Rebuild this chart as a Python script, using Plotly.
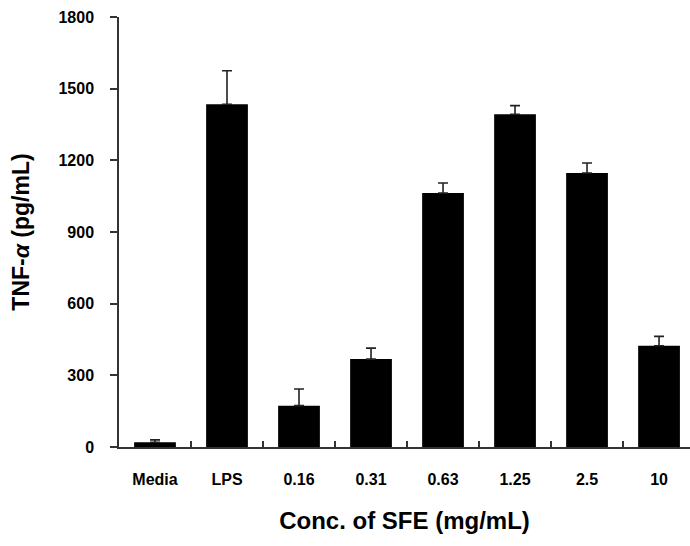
import plotly.graph_objects as go

categories = ["Media", "LPS", "0.16", "0.31", "0.63", "1.25", "2.5", "10"]
tnf_values = [20, 1435, 173, 368, 1063, 1393, 1147, 424]
tnf_errors = [10, 140, 70, 46, 42, 36, 42, 39]
y_ticks = [0, 300, 600, 900, 1200, 1500, 1800]

fig = go.Figure()
fig.add_trace(go.Bar(
    x=categories, y=tnf_values, width=0.58,
    marker=dict(color="black", line=dict(width=0)),
    error_y=dict(type="data", symmetric=False, array=tnf_errors,
                 arrayminus=[0] * len(tnf_errors),
                 color="#222222", thickness=1.6, width=5),
))

font_family = "Liberation Sans, Arial, sans-serif"
fig.update_layout(
    width=690, height=546,
    margin=dict(l=119, r=0, t=17, b=99),
    plot_bgcolor="white", paper_bgcolor="white",
    showlegend=False,
    font=dict(family=font_family, color="black"),
    xaxis=dict(
        type="category", range=[-0.5, 7.43],
        showline=True, linecolor="#333333", linewidth=1.5,
        ticks="inside", tickson="boundaries", ticklen=6, tickcolor="#333333", tickwidth=1.5,
        tickfont=dict(size=16, family=font_family, color="black", weight="bold"),
        showgrid=False, zeroline=False,
        title=dict(text="<b>Conc. of SFE (mg/mL)</b>", font=dict(size=24, family=font_family), standoff=25),
        ticklabelstandoff=17,
    ),
    yaxis=dict(
        range=[0, 1800], tickvals=y_ticks,
        showline=True, linecolor="#333333", linewidth=1.5,
        ticks="outside", ticklen=7, tickcolor="#333333", tickwidth=1.5,
        tickfont=dict(size=16, family=font_family, color="black", weight="bold"),
        showgrid=False, zeroline=False,
        title=dict(text="<b>TNF-<i>α</i> (pg/mL)</b>", font=dict(size=23, family=font_family), standoff=22),
        ticklabelstandoff=13,
    ),
)

fig.write_html("out.html")
